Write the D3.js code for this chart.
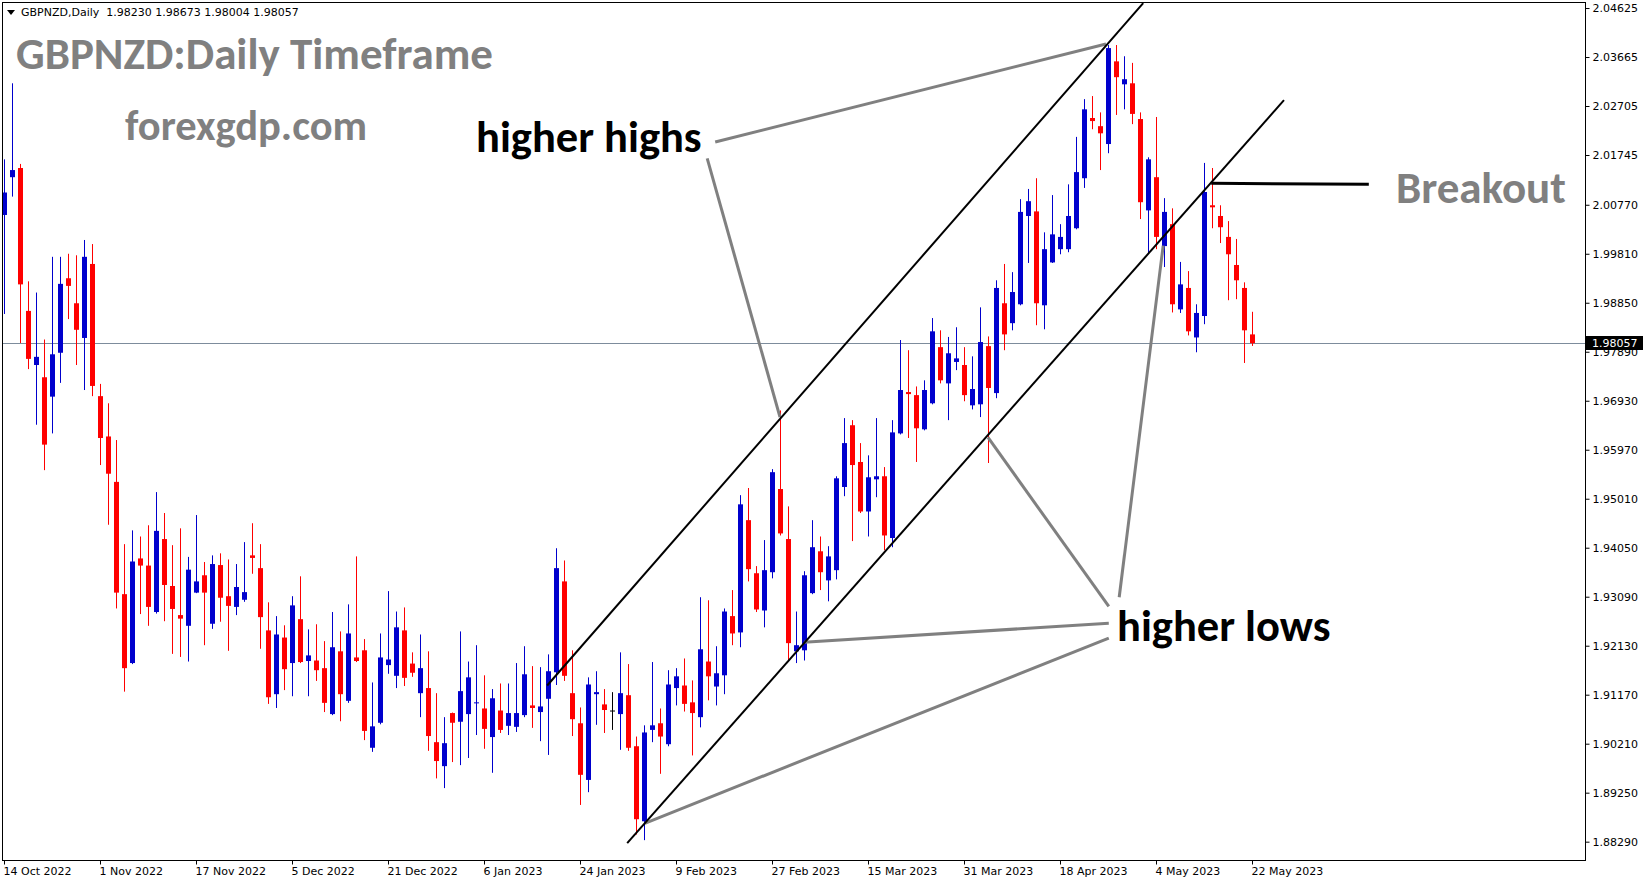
<!DOCTYPE html>
<html>
<head>
<meta charset="utf-8">
<script src="https://cdn.jsdelivr.net/npm/d3@7/dist/d3.min.js"></script>
<style>
  html, body { margin: 0; padding: 0; background: #fff; }
  svg { display: block; }
</style>
</head>
<body>
<svg id="chart"></svg>
<script>
// daily OHLC, 14 Oct 2022 .. 22 May 2023 (index = bar number)
const opens = [
  2.0057, 2.0131, 2.0149, 1.9869, 1.9763, 1.9739, 1.9701, 1.9787, 1.9933, 1.9884,
  1.9816, 1.9961, 1.9702, 1.9623, 1.9534, 1.9314, 1.9179, 1.9384, 1.9370, 1.9279,
  1.9422, 1.9330, 1.9273, 1.9252, 1.9317, 1.9351, 1.9256, 1.9371, 1.9310, 1.9289,
  1.9303, 1.9390, 1.9365, 1.9243, 1.9118, 1.9229, 1.9179, 1.9265, 1.9183, 1.9184,
  1.9169, 1.9079, 1.9202, 1.9105, 1.9190, 1.9204, 1.9013, 1.9062, 1.9175, 1.9154,
  1.9243, 1.9178, 1.9120, 1.9130, 1.9024, 1.8977, 1.9081, 1.9064, 1.9079, 1.9101,
  1.9090, 1.9034, 1.9086, 1.9056, 1.9054, 1.9077, 1.9096, 1.9083, 1.9109, 1.9161,
  1.9339, 1.9120, 1.9061, 1.8950, 1.9118, 1.9098, 1.9086, 1.9079, 1.9116, 1.9016,
  1.8869, 1.9048, 1.9061, 1.9020, 1.9130, 1.9135, 1.9102, 1.9073, 1.9182, 1.9133,
  1.9155, 1.9271, 1.9239, 1.9459, 1.9355, 1.9282, 1.9357, 1.9520, 1.9422, 1.9202,
  1.9204, 1.9316, 1.9398, 1.9341, 1.9361, 1.9524, 1.9645, 1.9573, 1.9476, 1.9539,
  1.9545, 1.9424, 1.9629, 1.9710, 1.9704, 1.9637, 1.9688, 1.9798, 1.9727, 1.9769,
  1.9763, 1.9684, 1.9686, 1.9800, 1.9708, 1.9884, 1.9845, 1.9882, 2.0055, 2.0064,
  1.9880, 1.9964, 1.9990, 1.9990, 2.0031, 2.0129, 2.0247, 2.0231, 2.0196, 2.0358,
  2.0313, 2.0315, 2.0245, 2.0066, 2.0131, 1.9996, 2.0039, 1.9872, 1.9914, 1.9817,
  1.9859, 2.0076, 2.0055, 2.0014, 1.9959, 1.9914, 1.98230
];
const highs = [
  2.0166, 2.0315, 2.0157, 1.9927, 1.9905, 1.9813, 1.9975, 1.9975, 1.9981, 1.9978,
  2.0008, 2.0000, 1.9726, 1.9688, 1.9616, 1.9412, 1.9439, 1.9427, 1.9449, 1.9514,
  1.9473, 1.9410, 1.9443, 1.9387, 1.9469, 1.9377, 1.9390, 1.9394, 1.9382, 1.9373,
  1.9416, 1.9453, 1.9412, 1.9298, 1.9271, 1.9253, 1.9310, 1.9349, 1.9245, 1.9255,
  1.9222, 1.9279, 1.9241, 1.9294, 1.9388, 1.9226, 1.9141, 1.9237, 1.9320, 1.9280,
  1.9288, 1.9200, 1.9235, 1.9202, 1.9120, 1.9073, 1.9082, 1.9241, 1.9182, 1.9214,
  1.9155, 1.9128, 1.9139, 1.9139, 1.9179, 1.9212, 1.9173, 1.9171, 1.9196, 1.9404,
  1.9380, 1.9204, 1.9092, 1.9151, 1.9163, 1.9128, 1.9122, 1.9200, 1.9177, 1.9035,
  1.9057, 1.9181, 1.9090, 1.9165, 1.9169, 1.9188, 1.9145, 1.9308, 1.9302, 1.9212,
  1.9286, 1.9322, 1.9508, 1.9522, 1.9369, 1.9420, 1.9559, 1.9674, 1.9486, 1.9280,
  1.9359, 1.9459, 1.9427, 1.9408, 1.9545, 1.9659, 1.9655, 1.9610, 1.9586, 1.9659,
  1.9563, 1.9655, 1.9812, 1.9792, 1.9721, 1.9733, 1.9855, 1.9831, 1.9818, 1.9837,
  1.9798, 1.9780, 1.9876, 1.9819, 1.9929, 1.9961, 1.9945, 2.0088, 2.0108, 2.0129,
  2.0023, 2.0096, 2.0039, 2.0117, 2.0210, 2.0284, 2.0290, 2.0258, 2.0390, 2.0390,
  2.0368, 2.0355, 2.0258, 2.0170, 2.0249, 2.0090, 2.0070, 1.9965, 1.9947, 1.9882,
  2.0159, 2.0149, 2.0076, 2.0045, 2.0010, 1.9925, 1.98673
];
const lows = [
  1.9863, 2.0093, 1.9806, 1.9755, 1.9646, 1.9557, 1.9629, 1.9728, 1.9853, 1.9763,
  1.9714, 1.9702, 1.9567, 1.9450, 1.9286, 1.9123, 1.9177, 1.9275, 1.9252, 1.9276,
  1.9261, 1.9197, 1.9191, 1.9182, 1.9316, 1.9214, 1.9246, 1.9260, 1.9203, 1.9273,
  1.9299, 1.9354, 1.9207, 1.9099, 1.9091, 1.9126, 1.9114, 1.9179, 1.9114, 1.9144,
  1.9083, 1.9077, 1.9065, 1.9101, 1.9181, 1.9028, 1.9005, 1.9059, 1.9158, 1.9130,
  1.9134, 1.9152, 1.9073, 1.9007, 1.8953, 1.8934, 1.8985, 1.8979, 1.8993, 1.9038,
  1.9011, 1.8964, 1.9042, 1.9038, 1.9044, 1.9073, 1.9052, 1.9026, 1.8999, 1.9136,
  1.9144, 1.9036, 1.8901, 1.8926, 1.9058, 1.9042, 1.9048, 1.9009, 1.9007, 1.8843,
  1.8832, 1.9024, 1.8962, 1.9016, 1.9096, 1.9084, 1.8998, 1.9053, 1.9106, 1.9096,
  1.9118, 1.9214, 1.9210, 1.9339, 1.9279, 1.9249, 1.9345, 1.9429, 1.9182, 1.9179,
  1.9184, 1.9314, 1.9322, 1.9300, 1.9343, 1.9506, 1.9418, 1.9473, 1.9427, 1.9504,
  1.9400, 1.9406, 1.9627, 1.9620, 1.9573, 1.9635, 1.9686, 1.9727, 1.9655, 1.9753,
  1.9692, 1.9676, 1.9661, 1.9571, 1.9698, 1.9792, 1.9831, 1.9880, 1.9963, 1.9841,
  1.9833, 1.9963, 1.9980, 1.9984, 2.0029, 2.0110, 2.0225, 2.0145, 2.0178, 2.0253,
  2.0264, 2.0235, 2.0049, 1.9982, 1.9990, 1.9955, 1.9866, 1.9865, 1.9821, 1.9788,
  1.9843, 2.0031, 2.0002, 1.9890, 1.9892, 1.9767, 1.98004
];
const closes = [
  2.0101, 2.0145, 1.9921, 1.9775, 1.9779, 1.9607, 1.9784, 1.9922, 1.9918, 1.9832,
  1.9975, 1.9722, 1.9620, 1.9550, 1.9317, 1.9169, 1.9378, 1.9370, 1.9289, 1.9438,
  1.9332, 1.9285, 1.9266, 1.9362, 1.9339, 1.9317, 1.9373, 1.9307, 1.9291, 1.9328,
  1.9318, 1.9385, 1.9269, 1.9112, 1.9235, 1.9167, 1.9292, 1.9181, 1.9194, 1.9165,
  1.9101, 1.9210, 1.9118, 1.9237, 1.9183, 1.9046, 1.9055, 1.9190, 1.9186, 1.9249,
  1.9150, 1.9160, 1.9169, 1.9036, 1.8987, 1.9022, 1.9062, 1.9124, 1.9151, 1.9102,
  1.9050, 1.9110, 1.9048, 1.9081, 1.9081, 1.9157, 1.9091, 1.9094, 1.9163, 1.9365,
  1.9154, 1.9069, 1.8960, 1.9137, 1.9122, 1.9087, 1.9086, 1.9120, 1.9013, 1.8873,
  1.9043, 1.9057, 1.9035, 1.9137, 1.9153, 1.9099, 1.9081, 1.9206, 1.9153, 1.9159,
  1.9280, 1.9237, 1.9490, 1.9363, 1.9284, 1.9361, 1.9553, 1.9433, 1.9218, 1.9214,
  1.9351, 1.9406, 1.9357, 1.9388, 1.9541, 1.9610, 1.9567, 1.9476, 1.9543, 1.9545,
  1.9429, 1.9631, 1.9714, 1.9706, 1.9639, 1.9714, 1.9829, 1.9733, 1.9786, 1.9776,
  1.9704, 1.9716, 1.9808, 1.9718, 1.9914, 1.9823, 1.9906, 2.0063, 2.0084, 1.9884,
  1.9990, 2.0019, 2.0014, 2.0055, 2.0141, 2.0264, 2.0241, 2.0217, 2.0384, 2.0327,
  2.0323, 2.0255, 2.0082, 2.0166, 2.0014, 2.0063, 1.9882, 1.9921, 1.9829, 1.9865,
  2.0102, 2.0072, 2.0033, 1.9980, 1.9929, 1.9831, 1.98057
];

const dateTickBars = [0, 12, 24, 36, 48, 60, 72, 84, 96, 108, 120, 132, 144, 156];
const dateLabels = ["14 Oct 2022", "1 Nov 2022", "17 Nov 2022", "5 Dec 2022", "21 Dec 2022",
  "6 Jan 2023", "24 Jan 2023", "9 Feb 2023", "27 Feb 2023", "15 Mar 2023", "31 Mar 2023",
  "18 Apr 2023", "4 May 2023", "22 May 2023"];
const priceTicks = [2.04625, 2.03665, 2.02705, 2.01745, 2.00770, 1.99810, 1.98850, 1.97890,
  1.96930, 1.95970, 1.95010, 1.94050, 1.93090, 1.92130, 1.91170, 1.90210, 1.89250, 1.88290];
const lastPrice = 1.98057;
const headerText = "GBPNZD,Daily  1.98230 1.98673 1.98004 1.98057";

// drawn objects, anchored at [bar, price]
const channelLines = [
  [[67.9, 1.9135], [142.4, 2.0472]],
  [[77.9, 1.8826], [160.0, 2.0282]]
];
const pointerLines = [
  [[88.9, 2.0200], [137.75, 2.0392]],
  [[87.9, 2.0168], [97.0, 1.9661]],
  [[123.0, 1.9621], [138.1, 1.9290]],
  [[139.4, 1.9308], [144.9, 1.9997]],
  [[100.0, 1.9220], [138.1, 1.9257]],
  [[80.1, 1.8865], [138.1, 1.9228]]
];
const breakoutLine = [[150.9, 2.0119], [170.6, 2.0117]];

const W = 1649, H = 884;
const plot = { left: 2, top: 2, right: 1585, bottom: 860 };

const svg = d3.select("#chart").attr("width", W).attr("height", H);
svg.append("rect").attr("width", W).attr("height", H).attr("fill", "#fff");

const x = d3.scaleLinear().domain([0, 156]).range([4, 1252]);
const y = d3.scaleLinear().domain([1.87931, 2.04743]).range([plot.bottom, plot.top]);

const candles = d3.range(opens.length).map((i) => ({
  i, o: opens[i], h: highs[i], l: lows[i], c: closes[i]
}));
const candleColor = (d) => (d.c > d.o ? "#0000CD" : d.c < d.o ? "#FF0000" : "#000000");

svg.append("clipPath").attr("id", "plotclip")
  .append("rect")
  .attr("x", plot.left).attr("y", plot.top)
  .attr("width", plot.right - plot.left).attr("height", plot.bottom - plot.top);

const g = svg.append("g").attr("clip-path", "url(#plotclip)");

// current price line
g.append("line")
  .attr("x1", plot.left).attr("x2", plot.right)
  .attr("y1", Math.round(y(lastPrice)) + 0.5).attr("y2", Math.round(y(lastPrice)) + 0.5)
  .attr("stroke", "#7d8c9c").attr("stroke-width", 1);

// candles
const cg = g.selectAll("g.candle").data(candles).enter().append("g").attr("class", "candle");
cg.append("rect")
  .attr("x", (d) => Math.round(x(d.i)))
  .attr("width", 1)
  .attr("y", (d) => y(d.h))
  .attr("height", (d) => Math.max(1, y(d.l) - y(d.h)))
  .attr("fill", candleColor);
cg.append("rect")
  .attr("x", (d) => Math.round(x(d.i)) - 2)
  .attr("width", 5)
  .attr("y", (d) => y(Math.max(d.o, d.c)))
  .attr("height", (d) => Math.max(1, Math.abs(y(d.o) - y(d.c))))
  .attr("fill", candleColor);

const line = d3.line().x((p) => x(p[0])).y((p) => y(p[1]));

g.selectAll("path.pointer").data(pointerLines).enter().append("path")
  .attr("class", "pointer")
  .attr("d", line)
  .attr("stroke", "#808080").attr("stroke-width", 3).attr("fill", "none");

g.selectAll("path.channel").data(channelLines).enter().append("path")
  .attr("class", "channel")
  .attr("d", line)
  .attr("stroke", "#000").attr("stroke-width", 2).attr("fill", "none");

g.append("path")
  .attr("d", line(breakoutLine))
  .attr("stroke", "#000").attr("stroke-width", 3).attr("fill", "none");

// frame
svg.append("rect")
  .attr("x", plot.left + 0.5).attr("y", plot.top + 0.5)
  .attr("width", plot.right - plot.left).attr("height", plot.bottom - plot.top)
  .attr("fill", "none").attr("stroke", "#000");

// right price axis
const yAxis = svg.append("g")
  .attr("transform", `translate(${plot.right + 0.5},0)`)
  .call(d3.axisRight(y).tickValues(priceTicks).tickSize(4).tickPadding(3)
    .tickFormat(d3.format(".5f")));
yAxis.select(".domain").remove();
yAxis.selectAll("text").attr("font-family", "DejaVu Sans").attr("font-size", 11).attr("fill", "#000");
yAxis.selectAll("line").attr("stroke", "#000");

// bottom date axis
const xAxis = svg.append("g")
  .attr("transform", `translate(0,${plot.bottom + 0.5})`)
  .call(d3.axisBottom(x).tickValues(dateTickBars).tickSize(4).tickPadding(3)
    .tickFormat((d, i) => dateLabels[i]));
xAxis.select(".domain").remove();
xAxis.selectAll("text").attr("font-family", "DejaVu Sans").attr("font-size", 11)
  .attr("fill", "#000").attr("text-anchor", "start").attr("dx", -1);
xAxis.selectAll("line").attr("stroke", "#000");

// last price tag
const tagY = Math.round(y(lastPrice));
svg.append("rect")
  .attr("x", plot.right + 1).attr("y", tagY - 7)
  .attr("width", 57).attr("height", 14).attr("fill", "#000");
svg.append("text")
  .attr("x", plot.right + 7).attr("y", tagY + 4)
  .attr("font-family", "DejaVu Sans").attr("font-size", 11).attr("fill", "#fff")
  .text(d3.format(".5f")(lastPrice));

// header
svg.append("path").attr("d", "M7,10 L15,10 L11,15 Z").attr("fill", "#000");
svg.append("text")
  .attr("x", 21).attr("y", 16)
  .attr("font-family", "DejaVu Sans").attr("font-size", 11).attr("fill", "#000")
  .style("white-space", "pre")
  .text(headerText);

// labels
const bigFont = "Carlito, Calibri, Lato, sans-serif";
const labels = [
  { t: "GBPNZD:Daily Timeframe", x: 16, y: 69, s: 45, c: "#808080" },
  { t: "forexgdp.com", x: 125, y: 140, s: 42.5, c: "#808080" },
  { t: "higher highs", x: 476, y: 152, s: 44.5, c: "#000" },
  { t: "higher lows", x: 1117, y: 641, s: 44.5, c: "#000" },
  { t: "Breakout", x: 1396, y: 203, s: 45, c: "#808080" }
];
svg.selectAll("text.lbl").data(labels).enter().append("text")
  .attr("class", "lbl")
  .attr("x", (d) => d.x).attr("y", (d) => d.y)
  .attr("font-family", bigFont).attr("font-weight", 700)
  .attr("font-size", (d) => d.s).attr("fill", (d) => d.c)
  .text((d) => d.t);
</script>
</body>
</html>
